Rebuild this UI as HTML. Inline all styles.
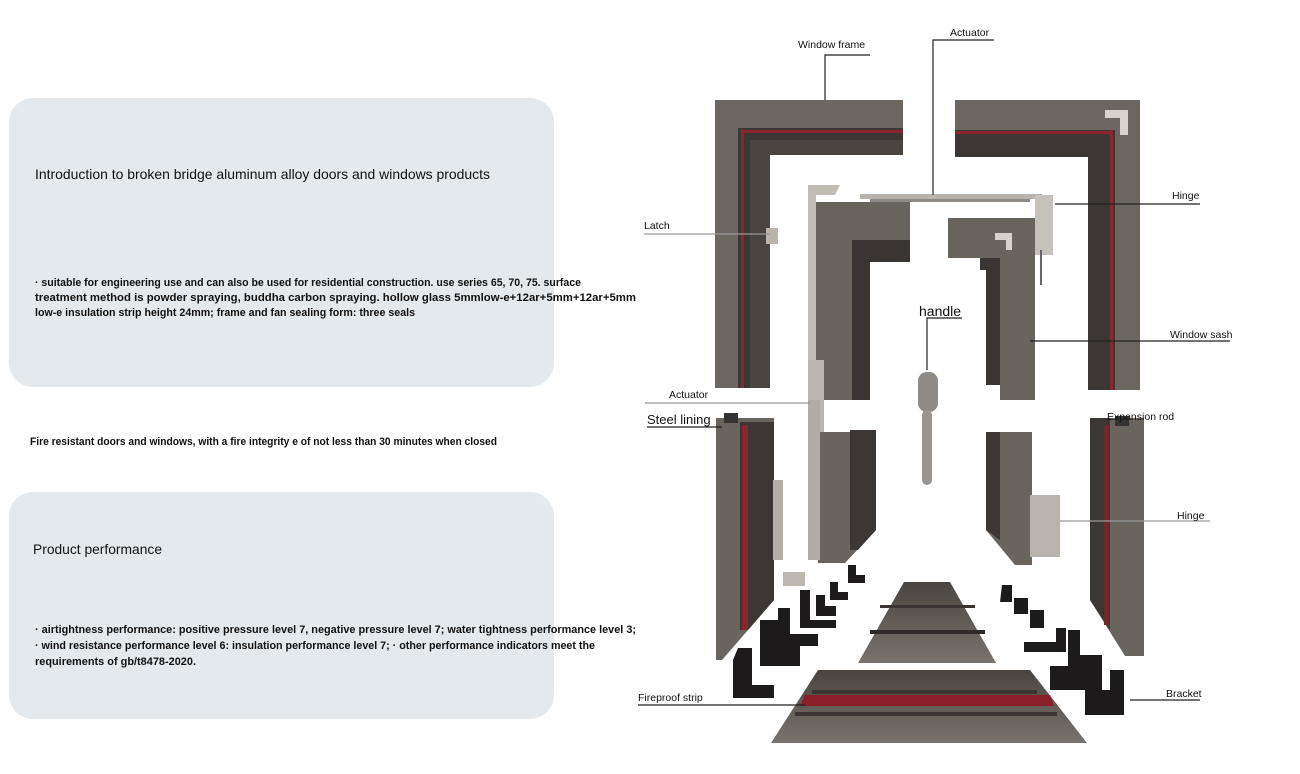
<!DOCTYPE html>
<html><head><meta charset="utf-8"><style>
html,body{margin:0;padding:0;background:#fff;}
svg{display:block;}
text{font-family:"Liberation Sans",sans-serif;fill:#111;}
</style></head><body>
<svg width="1300" height="774" viewBox="0 0 1300 774" xmlns="http://www.w3.org/2000/svg">
<defs>
<linearGradient id="al" x1="0" x2="1" y1="0" y2="0"><stop offset="0" stop-color="#6f6964"/><stop offset="1" stop-color="#5f5954"/></linearGradient>
<linearGradient id="tr" x1="0" x2="0" y1="0" y2="1"><stop offset="0" stop-color="#4a4440"/><stop offset="1" stop-color="#7a736d"/></linearGradient>
</defs>
<rect width="1300" height="774" fill="#fff"/>
<!-- Left panels -->
<rect x="9" y="98" width="545" height="289" rx="24" fill="#e4e9ed"/>
<text x="35" y="179" font-size="14" textLength="455" lengthAdjust="spacingAndGlyphs">Introduction to broken bridge aluminum alloy doors and windows products</text>
<g font-size="11" font-weight="bold">
<text x="35" y="286" textLength="546" lengthAdjust="spacingAndGlyphs">· suitable for engineering use and can also be used for residential construction. use series 65, 70, 75. surface</text>
<text x="35" y="301" textLength="601" lengthAdjust="spacingAndGlyphs">treatment method is powder spraying, buddha carbon spraying. hollow glass 5mmlow-e+12ar+5mm+12ar+5mm</text>
<text x="35" y="316" textLength="380" lengthAdjust="spacingAndGlyphs">low-e insulation strip height 24mm; frame and fan sealing form: three seals</text>
<text x="30" y="445" textLength="467" lengthAdjust="spacingAndGlyphs">Fire resistant doors and windows, with a fire integrity e of not less than 30 minutes when closed</text>
</g>
<rect x="9" y="492" width="545" height="227" rx="24" fill="#e4e9ed"/>
<text x="33" y="554" font-size="14" textLength="129" lengthAdjust="spacingAndGlyphs">Product performance</text>
<g font-size="11" font-weight="bold">
<text x="35" y="633" textLength="601" lengthAdjust="spacingAndGlyphs">· airtightness performance: positive pressure level 7, negative pressure level 7; water tightness performance level 3;</text>
<text x="35" y="649" textLength="560" lengthAdjust="spacingAndGlyphs">· wind resistance performance level 6: insulation performance level 7; · other performance indicators meet the</text>
<text x="35" y="665" textLength="161" lengthAdjust="spacingAndGlyphs">requirements of gb/t8478-2020.</text>
</g>

<!-- Left window frame -->
<polygon points="715,100 903,100 903,155 770,155 770,388 715,388" fill="#6c6661"/>
<polygon points="738,128 903,128 903,155 770,155 770,388 738,388" fill="#3c3634"/>
<rect x="741" y="130" width="3" height="258" fill="#8b2530"/>
<rect x="741" y="130" width="162" height="3" fill="#8b2530"/>
<polygon points="750,140 903,140 903,155 770,155 770,388 750,388" fill="#4a4441"/>
<rect x="766" y="228" width="12" height="16" fill="#b9b5ad"/>
<!-- Right window frame -->
<polygon points="955,100 1140,100 1140,390 1088,390 1088,157 955,157" fill="#6c6661"/>
<polygon points="955,130 1115,130 1115,390 1088,390 1088,157 955,157" fill="#3c3634"/>
<rect x="1110" y="130" width="3" height="260" fill="#8b2530"/>
<rect x="955" y="131" width="158" height="3" fill="#8b2530"/>
<polygon points="1105,110 1128,110 1128,135 1120,135 1120,118 1105,118" fill="#d8d4cc"/>
<!-- Left sash -->
<polygon points="815,202 910,202 910,240 860,240 860,400 815,400" fill="#6a645f"/>
<polygon points="852,240 910,240 910,262 870,262 870,400 852,400" fill="#3a3432"/>
<polygon points="808,185 840,185 835,195 816,195 816,400 808,400" fill="#c2beb6"/>
<!-- Actuator bar -->
<rect x="860" y="194" width="182" height="5" fill="#b8b4ad"/>
<rect x="870" y="199" width="160" height="3" fill="#8e8a85"/>
<!-- Right sash -->
<polygon points="948,218 1035,218 1035,400 1000,400 1000,258 948,258" fill="#6a645f"/>
<polygon points="980,258 1000,258 1000,385 986,385 986,270 980,270" fill="#3a3432"/>
<polygon points="995,233 1012,233 1012,250 1006,250 1006,240 995,240" fill="#d8d4cc"/>
<rect x="1035" y="195" width="18" height="60" fill="#c6c2bb"/>
<rect x="1040" y="250" width="2" height="35" fill="#666"/>
<!-- Handle -->
<rect x="918" y="372" width="20" height="40" rx="9" fill="#8e8a86"/>
<rect x="922" y="410" width="10" height="75" rx="5" fill="#9a9590"/>
<!-- Actuator lower piece -->
<rect x="808" y="360" width="16" height="95" fill="#bcb7b0"/>
<!-- Bottom left vertical -->
<polygon points="716,418 774,418 774,600 722,660 716,660" fill="#6a645f"/>
<polygon points="740,422 774,422 774,600 748,630 740,630" fill="#3c3634"/>
<rect x="742" y="425" width="6" height="205" fill="#8b2530"/>
<rect x="724" y="413" width="14" height="10" fill="#333"/>
<rect x="773" y="480" width="10" height="80" fill="#b4afa8"/>
<!-- Left lower sash -->
<polygon points="818,432 876,432 876,530 845,563 818,563" fill="#6a645f"/>
<polygon points="850,430 876,430 876,530 858,550 850,550" fill="#3c3634"/>
<rect x="808" y="400" width="12" height="160" fill="#b0aba4"/>
<!-- Right lower sash -->
<polygon points="986,432 1032,432 1032,565 1015,565 986,530" fill="#6a645f"/>
<polygon points="986,432 1000,432 1000,540 986,530" fill="#3c3634"/>
<rect x="1030" y="495" width="30" height="62" fill="#b8b3ac"/>
<!-- Bottom right vertical -->
<polygon points="1090,418 1144,418 1144,656 1125,656 1090,600" fill="#6a645f"/>
<polygon points="1090,418 1110,418 1110,630 1090,600" fill="#3c3634"/>
<rect x="1104" y="425" width="5" height="200" fill="#6e2a2a"/>
<rect x="1115" y="416" width="14" height="10" fill="#333"/>
<!-- Center trapezoids -->
<polygon points="904,582 950,582 996,663 858,663" fill="url(#tr)"/>
<rect x="880" y="605" width="95" height="3" fill="#3a3533"/>
<rect x="870" y="630" width="115" height="4" fill="#2f2b29"/>
<polygon points="818,670 1030,670 1087,743 771,743" fill="url(#tr)"/>
<rect x="812" y="690" width="225" height="4" fill="#3a3533"/>
<polygon points="805,695 1050,695 1054,706 800,706" fill="#8c1e2a"/>
<rect x="795" y="712" width="262" height="4" fill="#3a3533"/>
<!-- Brackets left -->
<g fill="#1c1a1a">
<polygon points="848,565 856,565 856,575 865,575 865,583 848,583"/>
<polygon points="830,582 838,582 838,592 848,592 848,600 830,600"/>
<polygon points="816,595 825,595 825,606 836,606 836,616 816,616"/>
<polygon points="800,590 810,590 810,620 836,620 836,628 800,628"/>
<polygon points="778,608 790,608 790,634 818,634 818,646 800,646 800,666 760,666 760,620 778,620"/>
<polygon points="738,648 752,648 752,685 774,685 774,698 733,698 733,660"/>
<rect x="783" y="572" width="22" height="14" fill="#bdb8b0"/>
</g>
<!-- Brackets right -->
<g fill="#1c1a1a">
<polygon points="1002,585 1012,585 1012,602 1000,602"/>
<polygon points="1014,598 1028,598 1028,614 1014,614"/>
<polygon points="1030,610 1044,610 1044,628 1030,628"/>
<polygon points="1056,628 1066,628 1066,652 1024,652 1024,642 1056,642"/>
<polygon points="1068,630 1080,630 1080,655 1102,655 1102,690 1050,690 1050,666 1068,666"/>
<polygon points="1110,670 1124,670 1124,715 1085,715 1085,690 1110,690"/>
</g>

<!-- Leader lines -->
<g stroke="#222" stroke-width="1.2" fill="none">
<path d="M825,100 V55 H870"/>
<path d="M933,195 V40 H994"/>
<path d="M1055,204 H1200"/>
<path d="M644,234 H770" stroke="#999"/>
<path d="M927,370 V318 H962"/>
<path d="M1030,341 H1230"/>
<path d="M645,403 H810" stroke="#999"/>
<path d="M647,427 H722"/>
<path d="M1060,521 H1210" stroke="#999"/>
<path d="M638,705 H805"/>
<path d="M1130,700 H1200"/>
</g>
<!-- Labels -->
<g font-size="10.5">
<text x="798" y="48">Window frame</text>
<text x="950" y="36">Actuator</text>
<text x="1172" y="199">Hinge</text>
<text x="644" y="229">Latch</text>
<text x="1170" y="338">Window sash</text>
<text x="669" y="398">Actuator</text>
<text x="1107" y="420">Expansion rod</text>
<text x="1177" y="519">Hinge</text>
<text x="638" y="701">Fireproof strip</text>
<text x="1166" y="697">Bracket</text>
</g>
<text x="919" y="316" font-size="14">handle</text>
<text x="647" y="424" font-size="13">Steel lining</text>
</svg>
</body></html>
